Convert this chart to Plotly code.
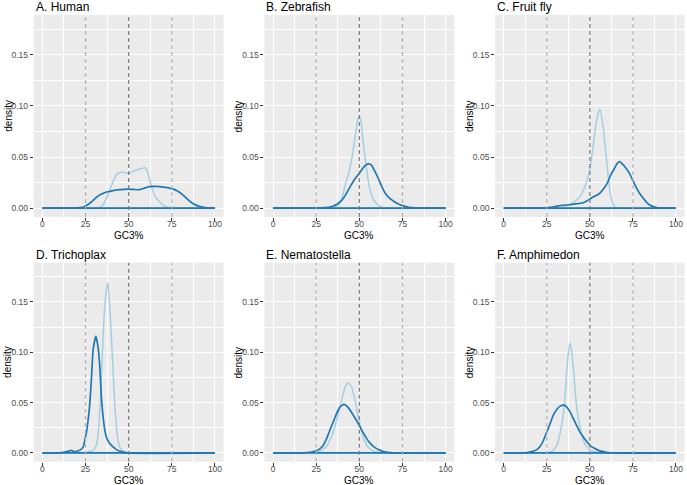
import plotly.graph_objects as go

# ---------------- data ----------------
PANEL_TITLES = ["A. Human", "B. Zebrafish", "C. Fruit fly",
                "D. Trichoplax", "E. Nematostella", "F. Amphimedon"]

HUMAN_LIGHT_X = [0, 30, 33, 35, 37, 39, 41, 43, 45, 47, 50, 52, 54, 56, 58, 59.5, 61, 62.5, 64, 66, 68, 70, 72, 75, 80, 100]
HUMAN_LIGHT_Y = [0, 0, 0.0005, 0.003, 0.009, 0.017, 0.026, 0.033, 0.035, 0.035, 0.034, 0.0355, 0.037, 0.038, 0.039, 0.0395, 0.035, 0.026, 0.017, 0.010, 0.006, 0.003, 0.0013, 0.0003, 0, 0]
HUMAN_DARK_X = [0, 18, 22, 24, 26, 28, 30, 32, 34, 36, 38, 41, 45, 49, 53, 56, 59, 62, 66, 70, 73, 76, 78, 80, 82, 84, 86, 88, 90, 92, 95, 100]
HUMAN_DARK_Y = [0, 0, 0.0004, 0.001, 0.003, 0.0055, 0.0085, 0.0115, 0.0135, 0.015, 0.016, 0.0172, 0.018, 0.0186, 0.0183, 0.018, 0.0195, 0.021, 0.0212, 0.0206, 0.0198, 0.0186, 0.017, 0.0148, 0.012, 0.0088, 0.006, 0.0038, 0.0022, 0.0012, 0.0003, 0]

ZEBRA_LIGHT_X = [0, 30, 35, 38, 40, 42, 44, 46, 48, 49, 50, 51, 52, 54, 56, 58, 60, 63, 67, 100]
ZEBRA_LIGHT_Y = [0, 0, 0.0005, 0.003, 0.010, 0.024, 0.035, 0.052, 0.075, 0.086, 0.0905, 0.084, 0.068, 0.040, 0.019, 0.009, 0.004, 0.001, 0, 0]
ZEBRA_DARK_X = [0, 25, 30, 33, 35, 37, 40, 42, 45, 48, 50, 52, 54, 55.5, 57, 59, 61, 63, 65, 67, 69, 71, 73, 75, 78, 82, 85, 100]
ZEBRA_DARK_Y = [0, 0, 0.0005, 0.001, 0.002, 0.0037, 0.008, 0.013, 0.022, 0.030, 0.034, 0.039, 0.0425, 0.0432, 0.042, 0.036, 0.029, 0.021, 0.0145, 0.0105, 0.0078, 0.0055, 0.0038, 0.0024, 0.001, 0.0003, 0, 0]

FLY_LIGHT_X = [0, 28, 32.6, 36.5, 40.3, 44.2, 46.1, 48, 50, 51.9, 53.9, 55.8, 57.7, 59.7, 61.6, 63.5, 65.4, 70, 100]
FLY_LIGHT_Y = [0, 0, 0.0005, 0.002, 0.0053, 0.011, 0.017, 0.025, 0.038, 0.060, 0.086, 0.097, 0.0795, 0.047, 0.017, 0.0036, 0.0003, 0, 0]
FLY_DARK_X = [0, 20, 25, 28, 31, 34, 38, 42, 46, 48, 50, 52, 54, 56, 58, 60, 62, 64, 66, 67.4, 69, 71, 73, 75, 77, 79, 81, 83, 85, 88, 92, 100]
FLY_DARK_Y = [0, 0, 0.0003, 0.001, 0.002, 0.0028, 0.0033, 0.0042, 0.0053, 0.0068, 0.0088, 0.011, 0.0125, 0.015, 0.019, 0.024, 0.032, 0.038, 0.044, 0.0455, 0.043, 0.039, 0.034, 0.027, 0.020, 0.014, 0.0098, 0.0055, 0.0028, 0.0008, 0, 0]

TRICHO_LIGHT_X = [0, 24, 26.5, 29.4, 31.3, 32.3, 33.3, 34.2, 35.2, 36.2, 37.9, 39, 40, 41, 41.9, 42.9, 43.8, 44.8, 46.7, 48.7, 52, 100]
TRICHO_LIGHT_Y = [0, 0, 0.001, 0.0026, 0.0076, 0.019, 0.042, 0.0755, 0.115, 0.148, 0.169, 0.148, 0.115, 0.082, 0.049, 0.026, 0.0126, 0.006, 0.002, 0.0005, 0, 0]
TRICHO_DARK_X = [0, 9, 12.1, 15, 16.9, 18.8, 19.8, 21.7, 23.7, 24.6, 25.6, 26.5, 27.5, 28.5, 29.4, 31, 32.3, 33.3, 34.2, 35.2, 36.2, 37.1, 39, 41, 42.9, 45.8, 49, 100]
TRICHO_DARK_Y = [0, 0, 0.0007, 0.0017, 0.0026, 0.001, 0.0017, 0.0026, 0.006, 0.0126, 0.021, 0.0325, 0.049, 0.0755, 0.102, 0.116, 0.105, 0.0854, 0.0556, 0.0358, 0.0225, 0.0159, 0.0093, 0.006, 0.0033, 0.0013, 0, 0]

NEMA_LIGHT_X = [0, 22, 25.2, 28.1, 31, 32.9, 34.9, 36.8, 38.8, 40.7, 42.2, 43.6, 45.5, 47.5, 49.4, 51.4, 53.3, 55.2, 58.1, 62, 66, 100]
NEMA_LIGHT_Y = [0, 0, 0.0007, 0.0026, 0.0066, 0.0126, 0.021, 0.0325, 0.0457, 0.059, 0.067, 0.0695, 0.0656, 0.0523, 0.0358, 0.021, 0.011, 0.0053, 0.002, 0.0003, 0, 0]
NEMA_DARK_X = [0, 14, 17.4, 21.3, 24.2, 27.1, 29.1, 31, 32.9, 34.9, 36.8, 38.8, 41.1, 43.6, 46.5, 49.4, 52.3, 55.2, 58.1, 61, 63.9, 67.8, 72, 100]
NEMA_DARK_Y = [0, 0, 0.0002, 0.0007, 0.0017, 0.004, 0.0076, 0.0142, 0.0225, 0.031, 0.039, 0.0457, 0.0483, 0.045, 0.0374, 0.029, 0.0199, 0.0119, 0.0066, 0.0033, 0.0013, 0.0003, 0, 0]

AMPHI_LIGHT_X = [0, 24, 26.9, 28.8, 30.8, 32.7, 34.6, 35.6, 36.5, 37.5, 38.5, 39.4, 40.4, 41.3, 42.3, 44.2, 46.2, 48.1, 50, 52.9, 55.8, 60, 100]
AMPHI_LIGHT_Y = [0, 0, 0.0007, 0.0027, 0.0076, 0.0193, 0.039, 0.0558, 0.079, 0.099, 0.1095, 0.1006, 0.0856, 0.0657, 0.0458, 0.0259, 0.0126, 0.006, 0.0033, 0.0013, 0.0003, 0, 0]
AMPHI_DARK_X = [0, 10, 13.5, 16.3, 19.2, 21.2, 23.1, 25, 26.9, 28.8, 30.8, 32.7, 35, 36.5, 38.5, 40.4, 42.3, 44.2, 46.2, 48.1, 50, 52.9, 55.8, 59.6, 63.5, 100]
AMPHI_DARK_Y = [0, 0, 0.0003, 0.0013, 0.0033, 0.0066, 0.0126, 0.0209, 0.029, 0.0375, 0.0431, 0.0465, 0.0475, 0.0458, 0.0408, 0.0342, 0.0275, 0.0209, 0.0159, 0.0116, 0.0076, 0.0043, 0.002, 0.0007, 0, 0]

LIGHT_SERIES = [(HUMAN_LIGHT_X, HUMAN_LIGHT_Y), (ZEBRA_LIGHT_X, ZEBRA_LIGHT_Y), (FLY_LIGHT_X, FLY_LIGHT_Y),
                (TRICHO_LIGHT_X, TRICHO_LIGHT_Y), (NEMA_LIGHT_X, NEMA_LIGHT_Y), (AMPHI_LIGHT_X, AMPHI_LIGHT_Y)]
DARK_SERIES = [(HUMAN_DARK_X, HUMAN_DARK_Y), (ZEBRA_DARK_X, ZEBRA_DARK_Y), (FLY_DARK_X, FLY_DARK_Y),
               (TRICHO_DARK_X, TRICHO_DARK_Y), (NEMA_DARK_X, NEMA_DARK_Y), (AMPHI_DARK_X, AMPHI_DARK_Y)]

REF_LINES = [25, 50, 75]
X_TICKS = [0, 25, 50, 75, 100]
Y_TICKS = [0, 0.05, 0.10, 0.15]
Y_TICK_LABELS = ["0.00", "0.05", "0.10", "0.15"]
X_TITLE = "GC3%"
Y_TITLE = "density"

# ---------------- layout geometry (pixels) ----------------
W, H = 687, 485
COLS = [(33.7, 223.6), (264.4, 454.3), (495.1, 684.6)]
ROWS = [(15, 217), (262.7, 461.7)]

LIGHT = "#a6cee3"
DARK = "#1f78b4"
FONT = "Liberation Sans, Arial, Helvetica, sans-serif"

fig = go.Figure()
layout = dict(width=W, height=H, margin=dict(l=0, r=0, t=0, b=0, autoexpand=False),
              paper_bgcolor="white", plot_bgcolor="#ebebeb", showlegend=False,
              font=dict(family=FONT))
annotations = []
shapes = []

for i in range(6):
    r, c = divmod(i, 3)
    x0, x1 = COLS[c]
    y0, y1 = ROWS[r]
    n = "" if i == 0 else str(i + 1)
    xa, ya = "x" + n, "y" + n
    lx, ly = LIGHT_SERIES[i]
    dx, dy = DARK_SERIES[i]
    fig.add_trace(go.Scatter(x=lx, y=ly, mode="lines", xaxis=xa, yaxis=ya,
                             line=dict(color=LIGHT, width=1.5, shape="spline", smoothing=0.5),
                             hoverinfo="skip"))
    fig.add_trace(go.Scatter(x=[min(lx), max(lx)], y=[0, 0], mode="lines", xaxis=xa, yaxis=ya,
                             line=dict(color=LIGHT, width=1.5), hoverinfo="skip"))
    fig.add_trace(go.Scatter(x=dx, y=dy, mode="lines", xaxis=xa, yaxis=ya,
                             line=dict(color=DARK, width=1.7, shape="spline", smoothing=0.5),
                             hoverinfo="skip"))
    fig.add_trace(go.Scatter(x=[min(dx), max(dx)], y=[0, 0], mode="lines", xaxis=xa, yaxis=ya,
                             line=dict(color=DARK, width=1.7), hoverinfo="skip"))

    common = dict(showline=False, zeroline=False, ticks="outside", ticklen=3,
                  tickcolor="#333333", tickwidth=1, showgrid=True, gridcolor="white",
                  gridwidth=1.1, tickfont=dict(size=8.5, color="#4d4d4d", family=FONT),
                  fixedrange=True, automargin=False)
    layout["xaxis" + n] = dict(common, domain=[x0 / W, x1 / W], anchor=ya,
                               range=[-5, 105], tickvals=X_TICKS,
                               ticktext=[str(v) for v in X_TICKS], ticklabelstandoff=-4,
                               minor=dict(dtick=12.5, tick0=0, showgrid=True,
                                          gridcolor="white", gridwidth=0.5, ticks=""))
    layout["yaxis" + n] = dict(common, domain=[1 - y1 / H, 1 - y0 / H], anchor=xa,
                               range=[-0.0087, 0.189], tickvals=Y_TICKS,
                               ticktext=Y_TICK_LABELS,
                               minor=dict(dtick=0.025, tick0=0, showgrid=True,
                                          gridcolor="white", gridwidth=0.5, ticks=""))
    for v in REF_LINES:
        shapes.append(dict(type="line", xref=xa, yref=ya + " domain", x0=v, x1=v, y0=0, y1=1,
                           line=dict(color="#7a7a7a" if v == 50 else "#b0b0b0", width=1.2,
                                     dash="4px,3px"), layer="above"))
    # panel title
    annotations.append(dict(text=PANEL_TITLES[i], x=x0 / W, y=1 - (y0 - 8) / H,
                            xref="paper", yref="paper", xanchor="left", yanchor="middle",
                            showarrow=False, font=dict(size=12, color="black", family=FONT)))
    # x axis title
    annotations.append(dict(text=X_TITLE, x=(x0 + x1) / 2 / W, y=1 - (y1 + 18.5) / H,
                            xref="paper", yref="paper", xanchor="center", yanchor="middle",
                            showarrow=False, font=dict(size=10, color="black", family=FONT)))
    # y axis title
    annotations.append(dict(text=Y_TITLE, x=(x0 - 26) / W, y=1 - (y0 + y1) / 2 / H,
                            xref="paper", yref="paper", xanchor="center", yanchor="middle",
                            textangle=-90, showarrow=False,
                            font=dict(size=10, color="black", family=FONT)))

layout["annotations"] = annotations
layout["shapes"] = shapes
fig.update_layout(**layout)
fig.write_html("out.html", config={"displayModeBar": False},
               post_script="document.body.style.margin='0px';document.body.style.overflow='hidden';")
